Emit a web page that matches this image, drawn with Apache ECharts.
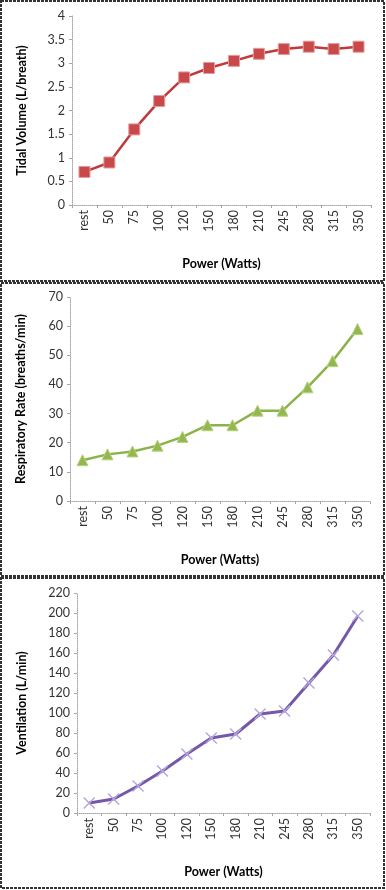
<!DOCTYPE html>
<html>
<head>
<meta charset="utf-8">
<script src="https://cdn.jsdelivr.net/npm/echarts@6/dist/echarts.min.js"></script>
<style>
html,body{margin:0;padding:0;background:#fff;}
#c{width:386px;height:890px;}
</style>
</head>
<body>
<div id="c"></div>
<script>
var categories = ['rest','50','75','100','120','150','180','210','245','280','315','350'];
var tidalVolume = [0.7,0.9,1.6,2.2,2.7,2.9,3.05,3.2,3.3,3.35,3.3,3.35];
var respiratoryRate = [14,16,17,19,22,26,26,31,31,39,48,59];
var ventilation = [10,14,27,42,59,75,79,99,102,130,158,197];
var xTitle = 'Power (Watts)';
var yTitles = ['Tidal Volume (L/breath)','Respiratory Rate (breaths/min)','Ventilation (L/min)'];

var FONT = 'Lato';
var grids = [
  {left:72, top:16, width:299, height:189},
  {left:70, top:297, width:300, height:204},
  {left:77, top:593, width:293, height:220}
];
var yCfg = [
  {min:0,max:4,interval:0.5,gap:44},
  {min:0,max:70,interval:10,gap:43},
  {min:0,max:220,interval:20,gap:49}
];
var axisLine = {show:true, lineStyle:{color:'#a6a6a6', width:1, type:'dotted'}};
var axisTick = {show:true, length:3, lineStyle:{color:'#a6a6a6', width:1}};

var xAxes = grids.map(function(g,i){
  return {
    type:'category', gridIndex:i, data:categories, boundaryGap:true,
    axisLine:axisLine, axisTick:axisTick,
    axisLabel:{rotate:90, fontFamily:FONT, fontSize:12.5, color:'#333', margin:5, interval:0},
    name:xTitle, nameLocation:'middle', nameGap:52,
    nameTextStyle:{fontFamily:FONT, fontWeight:'bold', fontSize:12.5, color:'#000'},
    splitLine:{show:false}
  };
});
var yAxes = yCfg.map(function(c,i){
  return {
    type:'value', gridIndex:i, min:c.min, max:c.max, interval:c.interval,
    axisLine:axisLine, axisTick:axisTick, splitLine:{show:false},
    axisLabel:{fontFamily:FONT, fontSize:12.5, color:'#333', margin:7},
    name:yTitles[i], nameLocation:'middle', nameRotate:90, nameGap:c.gap,
    nameTextStyle:{fontFamily:FONT, fontWeight:'bold', fontSize:12.5, color:'#000'}
  };
});

var xPath = 'path://M0,1L1,0L6,5L11,0L12,1L7,6L12,11L11,12L6,7L1,12L0,11L5,6Z';

var series = [
  {type:'line', xAxisIndex:0, yAxisIndex:0, data:tidalVolume,
   symbol:'rect', symbolSize:11, showAllSymbol:true,
   lineStyle:{color:'#c0393b', width:2.5},
   itemStyle:{color:'#c9484a', borderColor:'#e59a9a', borderWidth:1}},
  {type:'line', xAxisIndex:1, yAxisIndex:1, data:respiratoryRate,
   symbol:'triangle', symbolSize:11, showAllSymbol:true,
   lineStyle:{color:'#8cb24a', width:2.5},
   itemStyle:{color:'#93b84f', borderColor:'#b5d27a', borderWidth:1}},
  {type:'line', xAxisIndex:2, yAxisIndex:2, data:ventilation,
   symbol:xPath, symbolSize:12, showAllSymbol:true,
   lineStyle:{color:'#7657a8', width:3},
   itemStyle:{color:'#b3a6de'}}
];

var borderStyle = {fill:'none', stroke:'#333', lineWidth:2, lineDash:[3,1]};
var graphic = [
  {type:'rect', shape:{x:1, y:1, width:383, height:280}, style:borderStyle, silent:true},
  {type:'rect', shape:{x:1, y:283, width:383, height:293}, style:borderStyle, silent:true},
  {type:'rect', shape:{x:1, y:578, width:383, height:310}, style:borderStyle, silent:true}
];

var chart = echarts.init(document.getElementById('c'), null, {renderer:'canvas'});
chart.setOption({
  animation:false,
  backgroundColor:'#fff',
  grid:grids,
  xAxis:xAxes,
  yAxis:yAxes,
  series:series,
  graphic:graphic
});
</script>
</body>
</html>
